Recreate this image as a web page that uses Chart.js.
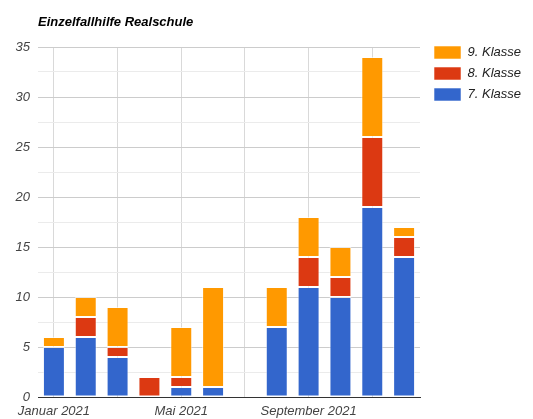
<!DOCTYPE html>
<html>
<head>
<meta charset="utf-8">
<script src="https://cdn.jsdelivr.net/npm/chart.js@4"></script>
<style>
  html, body { margin: 0; padding: 0; background: #fff; }
  #wrap { width: 533px; height: 419px; }
</style>
</head>
<body>
<div id="wrap"><canvas id="chart" width="533" height="419"></canvas></div>
<script>
// Monate 2021
const months = ['Januar 2021', 'Februar 2021', 'März 2021', 'April 2021', 'Mai 2021', 'Juni 2021',
  'Juli 2021', 'August 2021', 'September 2021', 'Oktober 2021', 'November 2021', 'Dezember 2021'];
// only these months get an axis label
const labelledMonths = [0, 4, 8];

const klasse7 = [5, 6, 4, 0, 1, 1, 0, 7, 11, 10, 19, 14];
const klasse8 = [0, 2, 1, 2, 1, 0, 0, 0, 3, 2, 7, 2];
const klasse9 = [1, 2, 4, 0, 5, 10, 0, 4, 4, 3, 8, 1];

const yTicks = [0, 5, 10, 15, 20, 25, 30, 35];

const FONT = "'Liberation Sans', Arial, sans-serif";

// title sits on the left edge of the plot area
const titlePlugin = {
  id: 'plotTitle',
  afterDraw(chart) {
    const ctx = chart.ctx;
    ctx.save();
    ctx.font = 'italic bold 13px ' + FONT;
    ctx.fillStyle = '#000';
    ctx.textBaseline = 'alphabetic';
    ctx.textAlign = 'left';
    ctx.fillText('Einzelfallhilfe Realschule', chart.chartArea.left, 26);
    ctx.restore();
  }
};

// nudge the legend a bit up and to the right of the plot
const legendShift = {
  id: 'legendShift',
  afterLayout(chart) {
    chart.legend.top -= 9;
    chart.legend.left += 6;
  }
};

const barStyle = { borderColor: 'rgba(255,255,255,0.55)', borderWidth: 1, borderSkipped: false,
  categoryPercentage: 1, barPercentage: 0.69 };

new Chart(document.getElementById('chart'), {
  type: 'bar',
  data: {
    labels: months,
    datasets: [
      Object.assign({ label: '7. Klasse', data: klasse7, backgroundColor: '#3366cc' }, barStyle),
      Object.assign({ label: '8. Klasse', data: klasse8, backgroundColor: '#dc3912' }, barStyle),
      Object.assign({ label: '9. Klasse', data: klasse9, backgroundColor: '#ff9900' }, barStyle)
    ]
  },
  options: {
    responsive: false,
    animation: false,
    layout: { padding: { top: 47, left: 0, right: 8, bottom: 0 } },
    plugins: {
      title: { display: false },
      tooltip: { enabled: false },
      legend: {
        position: 'right',
        align: 'start',
        reverse: true,
        labels: {
          boxWidth: 27,
          boxHeight: 13,
          padding: 8,
          color: '#222',
          font: { family: FONT, size: 13, style: 'italic' }
        }
      }
    },
    scales: {
      x: {
        stacked: true,
        grid: {
          offset: false,
          drawTicks: false,
          color: ctx => (ctx.index % 2 === 0 ? '#d9d9d9' : 'rgba(0,0,0,0)')
        },
        border: { color: '#333', width: 1 },
        ticks: {
          autoSkip: false,
          maxRotation: 0,
          padding: 7,
          color: '#444',
          font: { family: FONT, size: 13, style: 'italic' },
          callback: (v, i) => (labelledMonths.includes(i) ? months[i] : '')
        },
        afterFit: scale => { scale.height = 22; }
      },
      y: {
        stacked: true,
        min: 0,
        max: 35,
        grid: {
          drawTicks: false,
          color: ctx => (yTicks.includes(ctx.tick.value) ? '#cccccc' : '#ebebeb')
        },
        border: { display: false },
        ticks: {
          stepSize: 2.5,
          padding: 8,
          color: '#444',
          font: { family: FONT, size: 13, style: 'italic' },
          callback: v => (yTicks.includes(v) ? String(v) : '')
        },
        afterFit: scale => { scale.width = 38; }
      }
    }
  },
  plugins: [titlePlugin, legendShift]
});
</script>
</body>
</html>
